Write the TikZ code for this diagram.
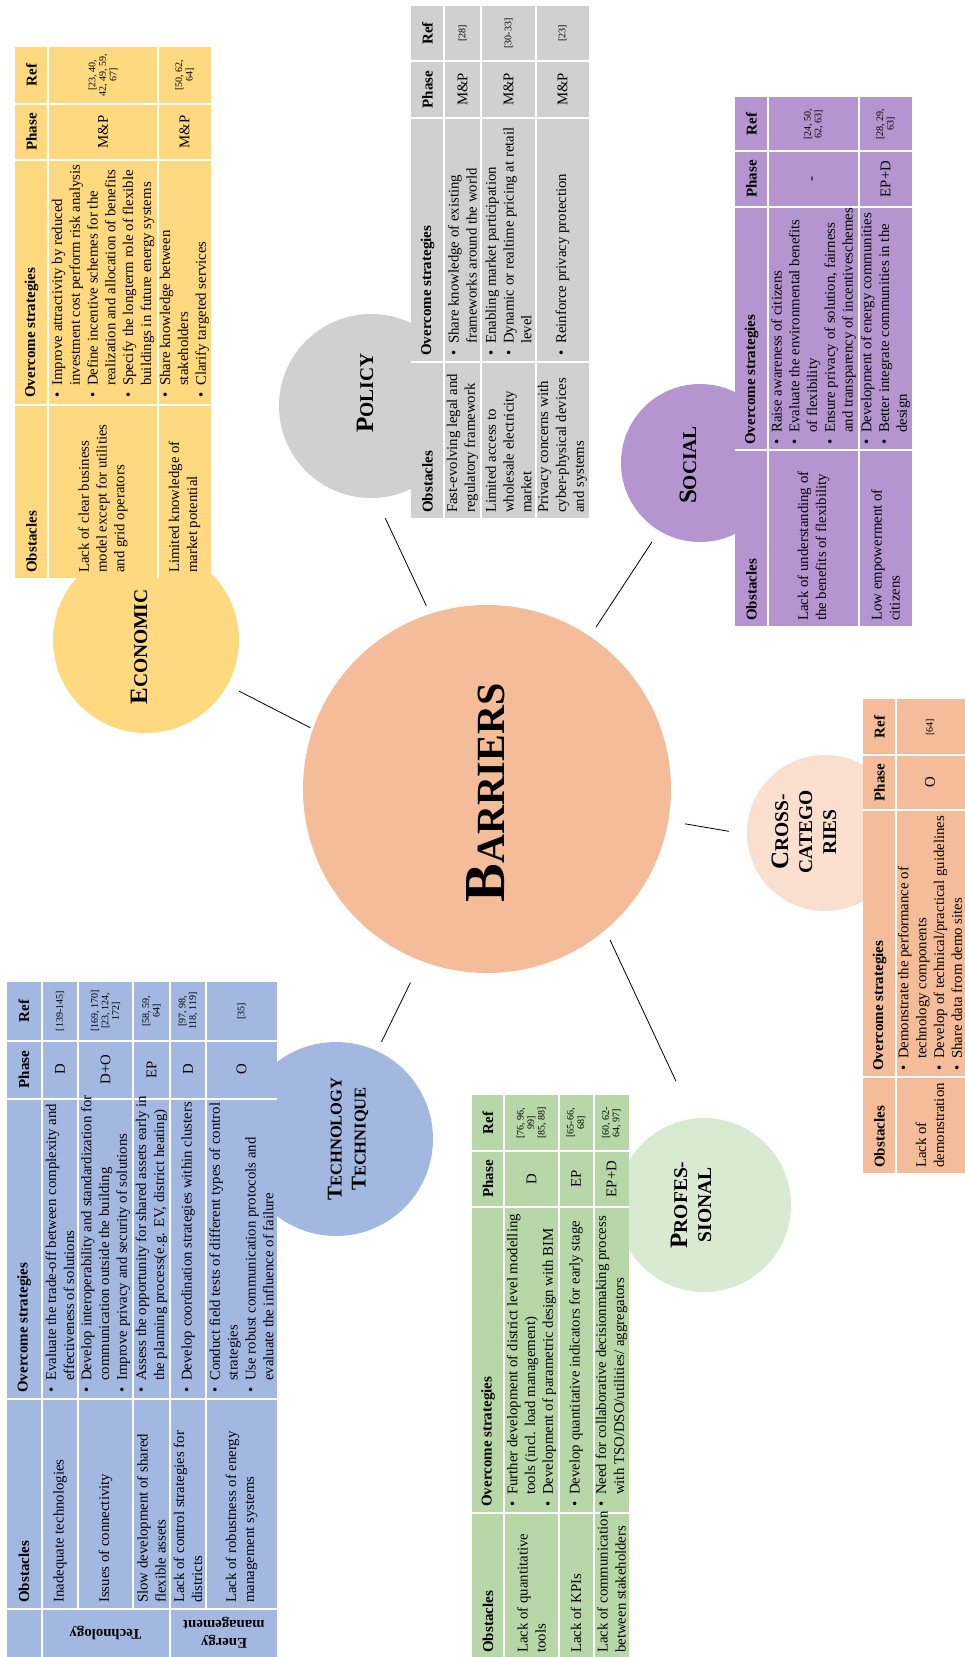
\documentclass[tikz,border=0pt]{standalone}
\usepackage{fontspec}
\setmainfont{Liberation Serif}
\definecolor{techblue}{HTML}{A2B8E0}
\definecolor{profgreen}{HTML}{B8D7A9}
\definecolor{proflight}{HTML}{D9EAD3}
\definecolor{econyellow}{HTML}{FFD97F}
\definecolor{polgray}{HTML}{D0D0D0}
\definecolor{socpurple}{HTML}{B495CF}
\definecolor{barpeach}{HTML}{F4BC98}
\definecolor{crosslight}{HTML}{FADFCE}
\newcommand\bul{\makebox[12pt][l]{\textbullet}}
\newcommand\cont{\hspace*{12pt}}
\newcommand\capword[2]{{\fontsize{25}{24}\selectfont #1}#2}
\begin{document}
\begin{tikzpicture}[x=1pt, y=-1pt,
	sep/.style={white, line width=2pt},
	blob/.style={circle, inner sep=0pt},
	link/.style={line width=0.8pt},
	txt/.style={rotate=90, anchor=west, align=left, inner sep=0pt, font=\fontsize{14.8}{17.8}\selectfont},
	mid/.style={rotate=90, align=center, inner sep=0pt, font=\fontsize{14.8}{17.8}\selectfont},
	refs/.style={rotate=90, align=center, inner sep=0pt, font=\fontsize{10}{10.5}\selectfont},
	hd/.style={font=\bfseries\fontsize{15}{18}\selectfont},
	cat/.style={rotate=180, align=center, inner sep=0pt, font=\bfseries\fontsize{14.8}{18}\selectfont},
	lbl/.style={rotate=90, align=center, inner sep=0pt, font=\bfseries\fontsize{19.5}{24}\selectfont},]
\useasboundingbox (0,0) rectangle (965,1657);
\clip (0,0) rectangle (965,1657);

% circles
\node[blob, fill=barpeach, minimum size=368pt] (barriers) at (487,789) {};
\node[blob, fill=econyellow, minimum size=186pt] (econ) at (146,640) {};
\node[blob, fill=polgray, minimum size=184pt] (policy) at (371,406) {};
\node[blob, fill=socpurple, minimum size=158pt] (social) at (700,463) {};
\node[blob, fill=crosslight, minimum size=156pt] (cross) at (825,833) {};
\node[blob, fill=proflight, minimum size=174pt] (prof) at (704,1205) {};
\node[blob, fill=techblue, minimum size=194pt] (tech) at (336,1139) {};

% connectors
\draw[link, shorten <=13pt, shorten >=3pt] (econ.-29) -- (barriers.161);
\draw[link, shorten <=22pt, shorten >=9pt] (policy.-87.5) -- (barriers.108);
\draw[link, shorten <=13pt, shorten >=11pt] (social.-121) -- (barriers.56);
\draw[link, shorten <=18pt, shorten >=17pt] (cross.181) -- (barriers.-10);
\draw[link, shorten <=41pt, shorten >=11pt] (prof.97.6) -- (barriers.-50.4);
\draw[link, shorten <=10pt, shorten >=24pt] (tech.65.8) -- (barriers.-111);

% economic table
\fill[econyellow] (15,47) rectangle (211,578);
\foreach \x in {48,157.5} \draw[sep] (\x,47) -- (\x,578);
\foreach \y in {103.5,160,404.5} \draw[sep] (15,\y) -- (211,\y);
\node[txt,hd] (eco0o) at (31.5,573) {Obstacles};
\node[txt,hd] (eco0s) at (31.5,398) {Overcome strategies};
\node[mid,hd] (eco0p) at (31.5,132) {Phase};
\node[mid,hd] (eco0r) at (31.5,75) {Ref};
\node[txt] (eco1o) at (103,573) {Lack of clear business\\model except for utilities\\and grid operators};
\node[txt] (eco1s) at (103,398) {\bul Improve attractivity by reduced\\\cont investment cost perform risk analysis\\\bul Define incentive schemes for the\\\cont realization and allocation of benefits\\\bul Specify the longterm role of flexible\\\cont buildings in future energy systems};
\node[mid] (eco1p) at (103,132) {M\&P};
\node[refs] (eco1r) at (103,75) {[23, 40,\\42, 49, 59,\\67]};
\node[txt] (eco2o) at (184.5,573) {Limited knowledge of\\market potential};
\node[txt] (eco2s) at (184.5,398) {\bul Share knowledge between\\\cont stakeholders\\\bul Clarify targeted services};
\node[mid] (eco2p) at (184.5,132) {M\&P};
\node[refs] (eco2r) at (184.5,75) {[50, 62,\\64]};

% policy table
\fill[polgray] (411,6) rectangle (589,518);
\foreach \x in {444,481,536} \draw[sep] (\x,6) -- (\x,518);
\foreach \y in {61,117.5,361.5} \draw[sep] (411,\y) -- (589,\y);
\node[txt,hd] (pol0o) at (427.5,513) {Obstacles};
\node[txt,hd] (pol0s) at (427.5,356) {Overcome strategies};
\node[mid,hd] (pol0p) at (427.5,89.5) {Phase};
\node[mid,hd] (pol0r) at (427.5,33.5) {Ref};
\node[txt] (pol1o) at (462.5,513) {Fast-evolving legal and\\regulatory framework};
\node[txt] (pol1s) at (462.5,356) {\bul Share knowledge of existing\\\cont frameworks around the world};
\node[mid] (pol1p) at (462.5,89.5) {M\&P};
\node[refs] (pol1r) at (462.5,33.5) {[28]};
\node[txt] (pol2o) at (508.5,513) {Limited access to\\wholesale electricity\\market};
\node[txt] (pol2s) at (508.5,356) {\bul Enabling market participation\\\bul Dynamic or realtime pricing at retail\\\cont level};
\node[mid] (pol2p) at (508.5,89.5) {M\&P};
\node[refs] (pol2r) at (508.5,33.5) {[30-33]};
\node[txt] (pol3o) at (562.5,513) {Privacy concerns with\\cyber-physical devices\\and systems};
\node[txt] (pol3s) at (562.5,356) {\bul Reinforce privacy protection};
\node[mid] (pol3p) at (562.5,89.5) {M\&P};
\node[refs] (pol3r) at (562.5,33.5) {[23]};

% social table
\fill[socpurple] (735,97) rectangle (912,626);
\foreach \x in {768,859} \draw[sep] (\x,97) -- (\x,626);
\foreach \y in {151,206.5,450} \draw[sep] (735,\y) -- (912,\y);
\node[txt,hd] (soc0o) at (751.5,621) {Obstacles};
\node[txt,hd] (soc0s) at (751.5,445) {Overcome strategies};
\node[mid,hd] (soc0p) at (751.5,179) {Phase};
\node[mid,hd] (soc0r) at (751.5,124) {Ref};
\node[txt] (soc1o) at (813.5,621) {Lack of understanding of\\the benefits of flexibility};
\node[txt] (soc1s) at (813.5,445) {\bul Raise awareness of citizens\\\bul Evaluate the environmental benefits\\\cont of flexibility\\\bul Ensure privacy of solution, fairness\\\cont and transparency of incentiveschemes};
\node[mid] (soc1p) at (813.5,179) {-};
\node[refs] (soc1r) at (813.5,124) {[24, 50,\\62, 63]};
\node[txt] (soc2o) at (885.5,621) {Low empowerment of\\citizens};
\node[txt] (soc2s) at (885.5,445) {\bul Development of energy communities\\\bul Better integrate communities in the\\\cont design};
\node[mid] (soc2p) at (885.5,179) {EP+D};
\node[refs] (soc2r) at (885.5,124) {[28, 29,\\63]};

% cross-categories table
\fill[barpeach] (863,699) rectangle (970,1173);
\draw[sep] (896,699) -- (896,1173);
\foreach \y in {755,810,1077} \draw[sep] (863,\y) -- (970,\y);
\node[txt,hd] (crs0o) at (879.5,1168) {Obstacles};
\node[txt,hd] (crs0s) at (879.5,1071) {Overcome strategies};
\node[mid,hd] (crs0p) at (879.5,782.5) {Phase};
\node[mid,hd] (crs0r) at (879.5,727) {Ref};
\node[txt] (crs1o) at (930,1168) {Lack of\\demonstration};
\node[txt] (crs1s) at (930,1071) {\bul Demonstrate the performance of\\\cont technology components\\\bul Develop of technical/practical guidelines\\\bul Share data from demo sites};
\node[mid] (crs1p) at (930,782.5) {O};
\node[refs] (crs1r) at (930,727) {[64]};

% professional table
\fill[profgreen] (472,1095) rectangle (629,1660);
\foreach \x in {504,559,593.5} \draw[sep] (\x,1095) -- (\x,1660);
\foreach \y in {1151,1206.5,1513} \draw[sep] (472,\y) -- (629,\y);
\node[txt,hd] (pro0o) at (488,1653) {Obstacles};
\node[txt,hd] (pro0s) at (488,1507) {Overcome strategies};
\node[mid,hd] (pro0p) at (488,1179) {Phase};
\node[mid,hd] (pro0r) at (488,1123) {Ref};
\node[txt] (pro1o) at (531.5,1653) {Lack of quantitative\\tools};
\node[txt] (pro1s) at (531.5,1507) {\bul Further development of district level modelling\\\cont tools (incl. load management)\\\bul Development of parametric design with BIM};
\node[mid] (pro1p) at (531.5,1179) {D};
\node[refs] (pro1r) at (531.5,1123) {[76, 96,\\99]\\{}[85, 88]};
\node[txt] (pro2o) at (576,1653) {Lack of KPIs};
\node[txt] (pro2s) at (576,1507) {\bul Develop quantitative indicators for early stage};
\node[mid] (pro2p) at (576,1179) {EP};
\node[refs] (pro2r) at (576,1123) {[65-66,\\68]};
\node[txt] (pro3o) at (611.5,1653) {Lack of communication\\between stakeholders};
\node[txt] (pro3s) at (611.5,1507) {\bul Need for collaborative decisionmaking process\\\cont with TSO/DSO/utilities/ aggregators};
\node[mid] (pro3p) at (611.5,1179) {EP+D};
\node[refs] (pro3r) at (611.5,1123) {[60, 62-\\64, 97]};

% technology table
\fill[techblue] (7,982) rectangle (277,1660);
\foreach \x in {41.5,78,132.5,170,206} \draw[sep] (\x,982) -- (\x,1609);
\foreach \x in {41.5,170} \draw[sep] (\x,1609) -- (\x,1660);
\foreach \y in {1040.5,1098.5,1399,1609} \draw[sep] (7,\y) -- (277,\y);
\node[txt,hd] (tec0o) at (24,1603) {Obstacles};
\node[txt,hd] (tec0s) at (24,1393) {Overcome strategies};
\node[mid,hd] (tec0p) at (24,1069.5) {Phase};
\node[mid,hd] (tec0r) at (24,1011) {Ref};
\node[txt] (tec1o) at (60,1603) {Inadequate technologies};
\node[txt] (tec1s) at (60,1393) {\bul Evaluate the trade-off between complexity and\\\cont effectiveness of solutions};
\node[mid] (tec1p) at (60,1069.5) {D};
\node[refs] (tec1r) at (60,1011) {[139-145]};
\node[txt] (tec2o) at (105.5,1603) {Issues of connectivity};
\node[txt] (tec2s) at (105.5,1393) {\bul Develop interoperability and standardization for\\\cont communication outside the building\\\bul Improve privacy and security of solutions};
\node[mid] (tec2p) at (105.5,1069.5) {D+O};
\node[refs] (tec2r) at (105.5,1011) {[169, 170]\\{}[23, 124,\\172]};
\node[txt] (tec3o) at (151.5,1603) {Slow development of shared\\flexible assets};
\node[txt] (tec3s) at (151.5,1393) {\bul Assess the opportunity for shared assets early in\\\cont the planning process(e.g. EV, district heating)};
\node[mid] (tec3p) at (151.5,1069.5) {EP};
\node[refs] (tec3r) at (151.5,1011) {[58, 59,\\64]};
\node[txt] (tec4o) at (188,1603) {Lack of control strategies for\\districts};
\node[txt] (tec4s) at (188,1393) {\bul Develop coordination strategies within clusters};
\node[mid] (tec4p) at (188,1069.5) {D};
\node[refs] (tec4r) at (188,1011) {[97, 98,\\118, 119]};
\node[txt] (tec5o) at (241.5,1603) {Lack of robustness of energy\\management systems};
\node[txt] (tec5s) at (241.5,1393) {\bul Conduct field tests of different types of control\\\cont strategies\\\bul Use robust communication protocols and\\\cont evaluate the influence of failure};
\node[mid] (tec5p) at (241.5,1069.5) {O};
\node[refs] (tec5r) at (241.5,1011) {[35]};
\node[cat] (tecc1) at (105.5,1633) {Technology};
\node[cat] (tecc2) at (224,1633) {Energy\\management};

% labels
\node[lbl] (barlbl) at (486,793) {{\fontsize{58}{58}\selectfont B}{\fontsize{40}{58}\selectfont ARRIERS}};
\node[lbl] (econlbl) at (139,647) {\capword{E}{CONOMIC}};
\node[lbl] (pollbl) at (365,393) {\capword{P}{OLICY}};
\node[lbl] (soclbl) at (688,465) {\capword{S}{OCIAL}};
\node[lbl] (crosslbl) at (804,832) {\capword{C}{ROSS-}\\CATEGO\\RIES};
\node[lbl] (proflbl) at (691,1205) {\capword{P}{ROFES-}\\SIONAL};
\node[lbl, font=\bfseries\fontsize{16.5}{24}\selectfont] (techlbl) at (348,1139) {{\fontsize{21}{24}\selectfont T}ECHNOLOGY\\{\fontsize{21}{24}\selectfont T}ECHNIQUE};
\end{tikzpicture}
\end{document}
